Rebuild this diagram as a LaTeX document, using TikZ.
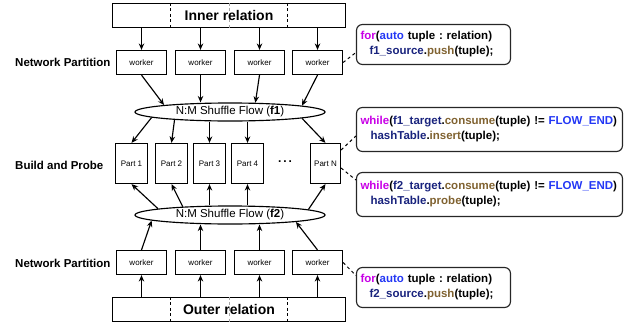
\documentclass[tikz,border=0pt]{standalone}
\usepackage{fontspec}
\setmainfont{Liberation Sans}
\usetikzlibrary{shapes.geometric,arrows.meta,calc}

\definecolor{kwpink}{RGB}{200,0,230}
\definecolor{kwblue}{RGB}{35,55,245}
\definecolor{idnavy}{RGB}{25,35,125}
\definecolor{fnbrown}{RGB}{128,98,48}

\begin{document}
\frenchspacing
\begin{tikzpicture}[x=1pt,y=-1pt,
  box/.style={draw, line width=1.15pt, inner sep=0pt},
  relbox/.style={box, minimum width=233pt, minimum height=24pt, font=\fontsize{14}{16}\selectfont\bfseries},
  workerbox/.style={box, minimum width=50pt, minimum height=24pt, font=\fontsize{8}{9}\selectfont},
  partbox/.style={box, minimum width=32pt, minimum height=40pt, font=\fontsize{8}{9}\selectfont},
  flow/.style={ellipse, draw, line width=1.15pt, minimum width=190pt, minimum height=18pt, inner sep=0pt, font=\fontsize{11.5}{13}\selectfont},
  stage/.style={anchor=west, inner sep=0pt, font=\fontsize{11.5}{13}\selectfont\bfseries},
  arr/.style={line width=1.15pt, -{Stealth[length=6.5pt,width=5.5pt]}},
  codebox/.style={draw=black!85, line width=1.15pt, rounded corners=6pt, align=left, inner xsep=4pt, inner ysep=0pt, font=\fontsize{11.5}{15}\selectfont\bfseries},
  note/.style={line width=1pt, dash pattern=on 3pt off 3pt},
  split/.style={line width=0.9pt, dash pattern=on 3pt off 2.5pt},
]
\useasboundingbox (0,0) rectangle (638,327);

% relations
\node[relbox] (inner) at (229,15.5) {};
\node[relbox] (outer) at (229,309.5) {};
\foreach \r in {inner,outer}{
  \draw[split] ($(\r.north west)!0.25!(\r.north east)$) -- ($(\r.south west)!0.25!(\r.south east)$);
  \draw[split] ($(\r.north west)!0.75!(\r.north east)$) -- ($(\r.south west)!0.75!(\r.south east)$);
  \draw[split, black!35] ($(\r.north west)!0.5!(\r.north east)$) -- ($(\r.south west)!0.5!(\r.south east)$);
}
\node[font=\fontsize{14}{16}\selectfont\bfseries] (innertext) at (inner) {Inner relation};
\node[font=\fontsize{14}{16}\selectfont\bfseries] (outertext) at (outer) {Outer relation};

% workers
\node[workerbox] (t1) at (141.5,62.5) {worker};
\node[workerbox] (t2) at (200.5,62.5) {worker};
\node[workerbox] (t3) at (259.5,62.5) {worker};
\node[workerbox] (t4) at (317.5,62.5) {worker};
\node[workerbox] (b1) at (141.5,262.5) {worker};
\node[workerbox] (b2) at (200.5,262.5) {worker};
\node[workerbox] (b3) at (259.5,262.5) {worker};
\node[workerbox] (b4) at (317.5,262.5) {worker};

% shuffle flows
\node[flow] (f1) at (230,112) {N:M Shuffle Flow (\textbf{f1})};
\node[flow] (f2) at (230,215) {N:M Shuffle Flow (\textbf{f2})};

% partitions
\node[partbox] (p1) at (131.5,163.5) {Part 1};
\node[partbox] (p2) at (171.5,163.5) {Part 2};
\node[partbox] (p3) at (209.5,163.5) {Part 3};
\node[partbox] (p4) at (247.5,163.5) {Part 4};
\node[partbox, minimum width=30pt] (pN) at (325.5,163.5) {Part N};
\node[font=\fontsize{12}{13}\selectfont\bfseries] (dots) at (285,162) {.\hspace{2pt}.\hspace{2pt}.};

% stage labels
\node[stage] (l1) at (15,62) {Network Partition};
\node[stage] (l2) at (15,165) {Build and Probe};
\node[stage] (l3) at (15,263) {Network Partition};

% code notes
\node[codebox, text width=146pt, minimum height=40pt] (c1) at (433.5,44.5)
  {\mbox{\textcolor{kwpink}{for}(\textcolor{kwblue}{auto} tuple : relation)}\\
   \mbox{\hspace*{9pt}\textcolor{idnavy}{f1\_source}.\textcolor{fnbrown}{push}(tuple);}};
\node[codebox, text width=258pt, minimum height=44pt] (c2) at (489.5,129.5)
  {\mbox{\textcolor{kwpink}{while}(\textcolor{idnavy}{f1\_target}.\textcolor{fnbrown}{consume}(tuple) != \textcolor{kwblue}{FLOW\_END})}\\
   \mbox{\hspace*{10pt}\textcolor{idnavy}{hashTable}.\textcolor{fnbrown}{insert}(tuple);}};
\node[codebox, text width=258pt, minimum height=44pt] (c3) at (489.5,194.5)
  {\mbox{\textcolor{kwpink}{while}(\textcolor{idnavy}{f2\_target}.\textcolor{fnbrown}{consume}(tuple) != \textcolor{kwblue}{FLOW\_END})}\\
   \mbox{\hspace*{10pt}\textcolor{idnavy}{hashTable}.\textcolor{fnbrown}{probe}(tuple);}};
\node[codebox, text width=146pt, minimum height=40pt] (c4) at (433.5,287.5)
  {\mbox{\textcolor{kwpink}{for}(\textcolor{kwblue}{auto} tuple : relation)}\\
   \mbox{\hspace*{9pt}\textcolor{idnavy}{f2\_source}.\textcolor{fnbrown}{push}(tuple);}};

% relation -> workers
\foreach \w in {t1,t2,t3,t4}{ \draw[arr] (inner.south -| \w.north) -- (\w.north); }
\foreach \w in {b1,b2,b3,b4}{ \draw[arr] (outer.north -| \w.south) -- (\w.south); }

% workers -> flows
\draw[arr] (t1.south) -- (f1.174.6);
\draw[arr] (t2.south) -- (t2.south |- f1.north);
\draw[arr] (t3.south) -- (f1.20.8);
\draw[arr] (t4.south) -- (f1.5.4);
\draw[arr] (b1.north) -- (f2.184.7);
\draw[arr] (b2.north) -- (b2.north |- f2.south);
\draw[arr] (b3.north) -- (b3.north |- f2.south);
\draw[arr] (b4.north) -- (f2.354.6);

% flows -> partitions
\draw[arr] (f1.184.2) -- (p1.north);
\draw[arr] (f1.188.7) -- (p2.north);
\draw[arr] (p3.north |- f1.south) -- (p3.north);
\draw[arr] (p4.north |- f1.south) -- (p4.north);
\draw[arr] (f1.355.3) -- (pN.north);
\draw[arr] (f2.175.5) -- (p1.south);
\draw[arr] (f2.170.8) -- (p2.south);
\draw[arr] (p3.south |- f2.north) -- (p3.south);
\draw[arr] (p4.south |- f2.north) -- (p4.south);
\draw[arr] (f2.4.7) -- (pN.south);

% note links
\draw[note] (t4.east) -- ([yshift=-8pt]c1.west);
\draw[note] ([yshift=13.5pt]pN.east) -- ([yshift=-6.5pt]c2.west);
\draw[note] ([yshift=-4.5pt]pN.east) -- ([yshift=14.5pt]c3.west);
\draw[note] (b4.east) -- ([yshift=12pt]c4.west);
\end{tikzpicture}
\end{document}
